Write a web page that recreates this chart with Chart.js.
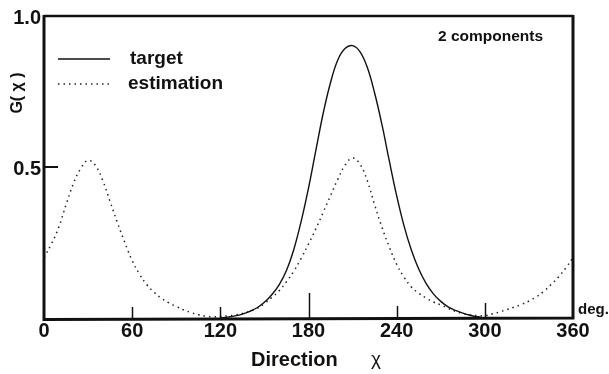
<!DOCTYPE html>
<html>
<head>
<meta charset="utf-8">
<script src="https://cdn.jsdelivr.net/npm/chart.js@4"></script>
<style>
  body { margin: 0; background: #fff; }
  #wrap { width: 609px; height: 374px; }
</style>
</head>
<body>
<div id="wrap"><canvas id="chart"></canvas></div>
<script>
// direction (deg) and G(x)
const estDeg = [0, 5, 10, 15, 20, 25, 30, 35, 40, 45, 50, 55, 60, 65, 70, 75, 80, 85, 90, 95,
  100, 105, 110, 115, 120, 125, 130, 135, 140, 145, 150, 155, 160, 165, 170, 175, 180, 185, 190, 195,
  200, 205, 210, 215, 220, 225, 230, 235, 240, 245, 250, 255, 260, 265, 270, 275, 280, 285, 290, 295,
  300, 305, 310, 315, 320, 325, 330, 335, 340, 345, 350, 355, 360];
const estimation = [0.20, 0.245, 0.30, 0.375, 0.445, 0.495, 0.522, 0.505, 0.455, 0.385, 0.315, 0.25, 0.19, 0.145, 0.11, 0.085, 0.065, 0.05, 0.038, 0.027,
  0.018, 0.011, 0.006, 0.004, 0.005, 0.007, 0.010, 0.015, 0.022, 0.032, 0.048, 0.068, 0.09, 0.12, 0.155, 0.197, 0.245, 0.295, 0.35, 0.405,
  0.46, 0.507, 0.53, 0.51, 0.455, 0.375, 0.30, 0.235, 0.178, 0.135, 0.103, 0.082, 0.066, 0.053, 0.043, 0.032, 0.022, 0.015, 0.01, 0.008,
  0.008, 0.013, 0.02, 0.028, 0.036, 0.045, 0.056, 0.07, 0.088, 0.11, 0.135, 0.165, 0.20];
const targetDeg = [120, 125, 130, 135, 140, 145, 150, 155, 160, 165, 170, 175, 180, 185, 190, 195,
  200, 205, 210, 215, 220, 225, 230, 235, 240, 245, 250, 255, 260, 265, 270, 275, 280, 285, 290, 295, 300];
const target = [0.0, 0.003, 0.007, 0.013, 0.022, 0.034, 0.052, 0.077, 0.11, 0.157, 0.227, 0.32, 0.43, 0.555, 0.678, 0.78,
  0.855, 0.893, 0.902, 0.882, 0.83, 0.745, 0.64, 0.52, 0.405, 0.305, 0.225, 0.162, 0.115, 0.08, 0.055, 0.037, 0.025, 0.016, 0.009, 0.004, 0.0];

const xTicks = [0, 60, 120, 180, 240, 300, 360];
const yTicks = [0.5, 1.0];
const yTickLabels = ['0.5', '1.0'];

const FONT = '"Liberation Sans", Arial, sans-serif';
const INK = '#111';

const toPoints = (xs, ys) => xs.map((x, i) => ({ x: x, y: ys[i] }));

// axes, ticks, labels and the in-plot legend, drawn like the original figure
const frame = {
  id: 'frame',
  afterDatasetsDraw(chart) {
    const { ctx, chartArea: a, scales } = chart;
    const sx = scales.x, sy = scales.y;
    ctx.save();
    ctx.strokeStyle = INK;
    ctx.fillStyle = INK;

    // box
    ctx.lineWidth = 2.5;
    ctx.beginPath();
    ctx.moveTo(a.left, a.top);
    ctx.lineTo(a.right, a.top);
    ctx.stroke();
    ctx.lineWidth = 3;
    ctx.beginPath();
    ctx.moveTo(a.left, a.top - 1);
    ctx.lineTo(a.left, a.bottom + 1.5);
    ctx.lineTo(a.right + 1.5, a.bottom);
    ctx.moveTo(a.right, a.top - 1);
    ctx.lineTo(a.right, a.bottom);
    ctx.stroke();

    // inner ticks on the x axis (lengths vary in the scan)
    const tickLen = [0, 11, 11, 25, 12, 15, 0];
    ctx.lineWidth = 1.5;
    xTicks.forEach((v, i) => {
      if (!tickLen[i]) return;
      const px = Math.round(sx.getPixelForValue(v)) + 0.5;
      ctx.beginPath();
      ctx.moveTo(px, a.bottom);
      ctx.lineTo(px, a.bottom - tickLen[i]);
      ctx.stroke();
    });
    ctx.lineWidth = 2;
    const py5 = sy.getPixelForValue(0.5);
    ctx.beginPath();
    ctx.moveTo(a.left, py5);
    ctx.lineTo(a.left + 14, py5);
    ctx.stroke();

    // tick labels
    ctx.font = 'bold 20px ' + FONT;
    ctx.textAlign = 'center';
    ctx.textBaseline = 'middle';
    xTicks.forEach(v => ctx.fillText(String(v), sx.getPixelForValue(v), a.bottom + 13));
    ctx.textAlign = 'right';
    yTicks.forEach((v, i) => ctx.fillText(yTickLabels[i], a.left - 3, sy.getPixelForValue(v) + 2));

    // unit and axis titles
    ctx.textAlign = 'left';
    ctx.font = 'bold 15px ' + FONT;
    ctx.fillText('deg.', a.right + 5, a.bottom - 8);
    ctx.font = 'bold 20px ' + FONT;
    ctx.fillText('Direction', 251, a.bottom + 42);
    ctx.font = '19px ' + FONT;
    ctx.fillText('χ', 371, a.bottom + 42);

    ctx.save();
    ctx.translate(18, 93);
    ctx.rotate(-Math.PI / 2);
    ctx.textAlign = 'center';
    ctx.font = 'bold 16px ' + FONT;
    ctx.fillText('G( χ )', 0, 0);
    ctx.restore();

    ctx.font = 'bold 15.5px ' + FONT;
    ctx.fillText('2 components', 438, 37);

    // legend
    const ds = chart.data.datasets;
    const rows = [{ y: 59, tx: 130 }, { y: 84, tx: 128 }];
    ds.forEach((d, i) => {
      const r = rows[i];
      ctx.strokeStyle = d.borderColor;
      ctx.lineWidth = d.borderWidth;
      ctx.setLineDash(d.borderDash || []);
      ctx.beginPath();
      ctx.moveTo(58, r.y);
      ctx.lineTo(110, r.y);
      ctx.stroke();
      ctx.setLineDash([]);
      ctx.font = 'bold 19px ' + FONT;
      ctx.fillText(d.label, r.tx, r.y);
    });
    ctx.restore();
  }
};

new Chart(document.getElementById('chart'), {
  type: 'line',
  data: {
    datasets: [{
      label: 'target',
      data: toPoints(targetDeg, target),
      borderColor: INK,
      borderWidth: 1.4,
      pointRadius: 0,
      tension: 0.4
    }, {
      label: 'estimation',
      data: toPoints(estDeg, estimation),
      borderColor: '#222',
      borderWidth: 1.5,
      borderDash: [1.5, 4],
      pointRadius: 0,
      tension: 0.4
    }]
  },
  options: {
    responsive: true,
    maintainAspectRatio: false,
    animation: false,
    layout: { padding: { left: 44, right: 36, top: 16, bottom: 56 } },
    plugins: { legend: { display: false }, tooltip: { enabled: false } },
    scales: {
      x: { type: 'linear', min: 0, max: 360, display: false },
      y: { type: 'linear', min: 0, max: 1, display: false }
    }
  },
  plugins: [frame]
});
</script>
</body>
</html>
